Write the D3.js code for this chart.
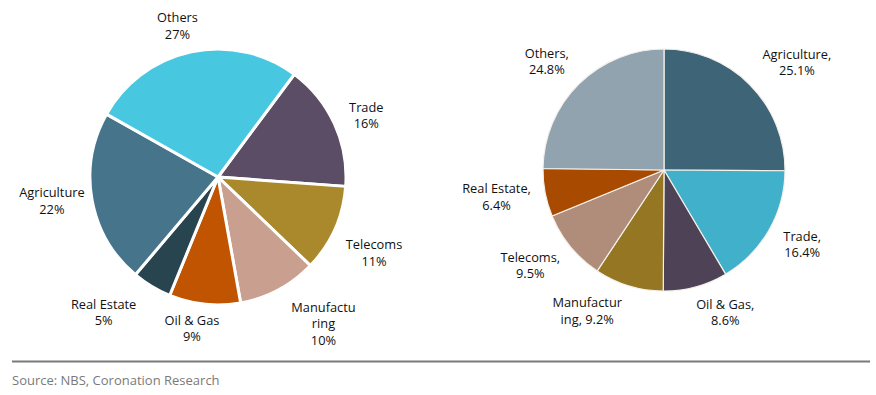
<!DOCTYPE html>
<html><head><meta charset="utf-8">
<script src="https://cdn.jsdelivr.net/npm/d3@7"></script>
<style>
html,body{margin:0;padding:0;background:#fff;}
svg text{font-family:"Open Sans",sans-serif;}
</style></head>
<body><svg id="chart" width="876" height="395"></svg>
<script>
// ---- Data ----
const leftCategories = ["Trade","Telecoms","Manufacturing","Oil & Gas","Real Estate","Agriculture","Others"];
const leftValues = [16, 11, 10, 9, 5, 22, 27];
const leftLabels = [["Trade","16%"],["Telecoms","11%"],["Manufactu","ring","10%"],["Oil & Gas","9%"],["Real Estate","5%"],["Agriculture","22%"],["Others","27%"]];

const rightCategories = ["Agriculture","Trade","Oil & Gas","Manufacturing","Telecoms","Real Estate","Others"];
const rightValues = [25.1, 16.4, 8.6, 9.2, 9.5, 6.4, 24.8];
const rightLabels = [["Agriculture,","25.1%"],["Trade,","16.4%"],["Oil & Gas,","8.6%"],["Manufactur","ing, 9.2%"],["Telecoms,","9.5%"],["Real Estate,","6.4%"],["Others,","24.8%"]];

const sourceText = "Source: NBS, Coronation Research";

// ---- Styles / layout ----
const leftColors = {"Trade":"#5b4d65","Telecoms":"#a9892b","Manufacturing":"#c9a08f","Oil & Gas":"#c05400","Real Estate":"#27444f","Agriculture":"#46758b","Others":"#47c8e0"};
const rightColors = {"Agriculture":"#3e6478","Trade":"#41b0cb","Oil & Gas":"#4e4257","Manufacturing":"#957622","Telecoms":"#b08d7b","Real Estate":"#a84a00","Others":"#91a3af"};
const leftNudge = [[9,2],[6,14],[26,5],[-9,0],[-27,5],[0,-3],[-8,-2]];
const rightNudge = [[17,-5],[10,2],[20,2],[-29,2],[-11,3],[-7,0],[-11,-5]];

const svg = d3.select("#chart");
const FS = 12.8, LH = 16.5;

function drawPie(cfg){
  const g = svg.append("g").attr("transform",`translate(${cfg.cx},${cfg.cy})`);
  const pie = d3.pie().sort(null).value(d=>d.v)
    .startAngle(cfg.start).endAngle(cfg.start + 2*Math.PI);
  const data = cfg.cats.map((c,i)=>({c, v:cfg.vals[i], lab:cfg.labels[i]}));
  const arcs = pie(data);
  const arc = d3.arc().innerRadius(0).outerRadius(cfg.r);
  g.selectAll("path.slice").data(arcs).join("path")
    .attr("class","slice")
    .attr("d",arc)
    .attr("fill",d=>cfg.colors[d.data.c])
    .attr("stroke",cfg.stroke)
    .attr("stroke-width",cfg.sw)
    .attr("stroke-linejoin","round");
  const lg = g.selectAll("g.lab").data(arcs).join("g").attr("class","lab");
  lg.each(function(d,i){
    const sel = d3.select(this);
    const lines = d.data.lab;
    const t = sel.append("text").attr("text-anchor","middle").attr("font-size",FS).attr("fill","#111");
    lines.forEach((s,k)=>t.append("tspan").attr("x",0).attr("y",k*LH).text(s));
    const bb = t.node().getBBox();
    const mid = (d.startAngle+d.endAngle)/2;
    const sx = Math.sin(mid), sy = -Math.cos(mid);
    const rr = cfg.r + cfg.gap;
    const w = bb.width, h = lines.length*LH;
    const nud = cfg.nudge[i]||[0,0];
    const cxl = rr*sx + sx*w/2 + nud[0];
    const cyl = rr*sy + sy*h/2 + nud[1];
    const top = cyl - h/2;
    t.attr("transform",`translate(${cxl},${top + LH*0.5 + FS*0.35})`);
  });
}

drawPie({cx:218, cy:177, r:128, start:36.6*Math.PI/180,
  cats:leftCategories, vals:leftValues, labels:leftLabels, colors:leftColors,
  stroke:"#fff", sw:3, gap:8, nudge:leftNudge});

drawPie({cx:664, cy:170, r:121, start:0,
  cats:rightCategories, vals:rightValues, labels:rightLabels, colors:rightColors,
  stroke:"#f4f0ea", sw:1.2, gap:8, nudge:rightNudge});

svg.append("line").attr("x1",12).attr("x2",870).attr("y1",361.5).attr("y2",361.5)
  .attr("stroke","#7a7a7a").attr("stroke-width",2);
svg.append("text").attr("x",12).attr("y",385).attr("font-size",13).attr("fill","#7a7a7a").text(sourceText);
</script></body></html>
